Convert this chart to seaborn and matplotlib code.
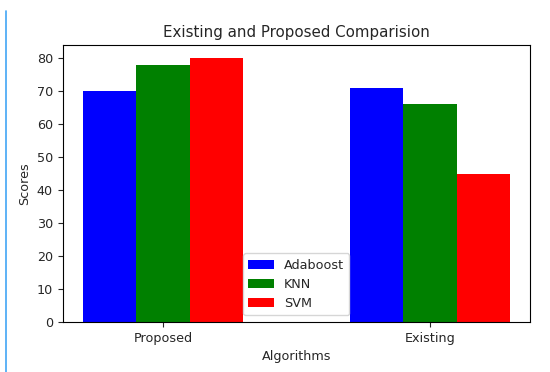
import matplotlib
matplotlib.use("Agg")
import matplotlib.pyplot as plt
from matplotlib.lines import Line2D
import seaborn as sns
import pandas as pd

# Scores per approach and classifier
groups = ["Proposed", "Existing"]
algorithms = ["Adaboost", "KNN", "SVM"]
adaboost_scores = [70, 71]
knn_scores = [78, 66]
svm_scores = [80, 45]
bar_colors = ["blue", "green", "red"]

rows = []
for algo, vals in zip(algorithms, [adaboost_scores, knn_scores, svm_scores]):
    for g, v in zip(groups, vals):
        rows.append({"Group": g, "Algorithm": algo, "Score": v})
df = pd.DataFrame(rows)

sns.set_style("ticks")
plt.rcParams["font.family"] = ["DejaVu Sans"]

fig = plt.figure(figsize=(5.5, 3.72), dpi=100)
ax = fig.add_axes([0.114, 0.135, 0.8496, 0.744])

sns.barplot(data=df, x="Group", y="Score", hue="Algorithm", order=groups,
            hue_order=algorithms, palette=bar_colors, width=0.6,
            saturation=1, errorbar=None, ax=ax, edgecolor="none")

fs = 9.2
ax.set_xlim(-0.375, 1.375)
ax.set_ylim(0, 84)
ax.set_yticks(range(0, 81, 10))
ax.set_title("Existing and Proposed Comparision", fontsize=10.85)
ax.set_xlabel("Algorithms", fontsize=fs)
ax.set_ylabel("Scores", fontsize=fs)
ax.tick_params(labelsize=fs, length=3.5, width=0.8)
for s in ax.spines.values():
    s.set_visible(True)
    s.set_linewidth(0.8)
    s.set_color("black")

ax.legend(loc="lower center", fontsize=fs, frameon=True, fancybox=True,
          framealpha=0.8, edgecolor="#cccccc")

# Notebook cell marker along the left side
fig.add_artist(Line2D([5.5 / 550, 5.5 / 550], [0, 1 - 11 / 372],
                      transform=fig.transFigure, color="#42a5f5", lw=1.2))

fig.savefig("out.png", dpi=100)
